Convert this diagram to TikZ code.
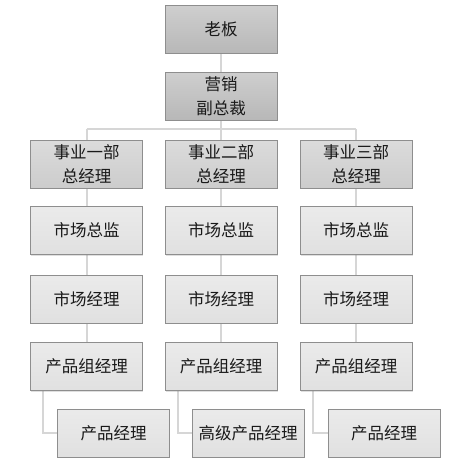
\documentclass[tikz,border=0pt]{standalone}
\usepackage{fontspec}
\setmainfont{Noto Sans CJK SC}
\usepackage{xcolor}
\usepackage{tikz}
\usetikzlibrary{shadows,backgrounds}

\definecolor{boxline}{HTML}{8E8E8E}
\definecolor{linkgray}{HTML}{D6D6D6}

\begin{document}
\begin{tikzpicture}[x=1pt, y=-1pt,
    box/.style={draw=boxline, line width=0.8pt, minimum width=112pt, minimum height=48pt,
      inner sep=0pt, align=center, font=\fontsize{16.5}{24}\selectfont, text=black!90,
      drop shadow={opacity=0.25, shadow xshift=0.8pt, shadow yshift=-1pt}},
    topbox/.style={box, top color=black!19, bottom color=black!28},
    gmbox/.style={box, top color=black!14, bottom color=black!20},
    stdbox/.style={box, top color=black!8, bottom color=black!12},
    link/.style={draw=linkgray, line width=2pt}]
  \useasboundingbox (0,0) rectangle (448,463);

  % top of the tree
  \node[topbox] (boss) at (221,29) {老板};
  \node[topbox] (vp) at (221,96) {营销\\副总裁};
  \coordinate (bus) at (221,129);

  % three business units
  \node[gmbox] (gm1) at (86.5,164) {事业一部\\总经理};
  \node[gmbox] (gm2) at (221,164) {事业二部\\总经理};
  \node[gmbox] (gm3) at (356,164) {事业三部\\总经理};

  \node[stdbox] (dir1) at (86.5,230.5) {市场总监};
  \node[stdbox] (dir2) at (221,230.5) {市场总监};
  \node[stdbox] (dir3) at (356,230.5) {市场总监};

  \node[stdbox] (mm1) at (86.5,299) {市场经理};
  \node[stdbox] (mm2) at (221,299) {市场经理};
  \node[stdbox] (mm3) at (356,299) {市场经理};

  \node[stdbox] (pgm1) at (86.5,366.5) {产品组经理};
  \node[stdbox] (pgm2) at (221,366.5) {产品组经理};
  \node[stdbox] (pgm3) at (356,366.5) {产品组经理};

  \node[stdbox] (pm1) at (113.5,433) {产品经理};
  \node[stdbox] (pm2) at (248,433) {高级产品经理};
  \node[stdbox] (pm3) at (384,433) {产品经理};

  % connectors, drawn behind the boxes
  \begin{pgfonlayer}{background}
    \path[link] (boss) -- (vp);
    \path[link] (vp) -- (bus);
    \path[link] (gm1.north |- bus) -- (gm3.north |- bus);
    \foreach \i in {1,2,3} {
      \path[link] (gm\i.north |- bus) -- (gm\i.north);
      \path[link] (gm\i) -- (dir\i);
      \path[link] (dir\i) -- (mm\i);
      \path[link] (mm\i) -- (pgm\i);
      \path[link] ([xshift=13pt]pgm\i.south west) |- (pm\i.west);
    }
  \end{pgfonlayer}
\end{tikzpicture}
\end{document}
